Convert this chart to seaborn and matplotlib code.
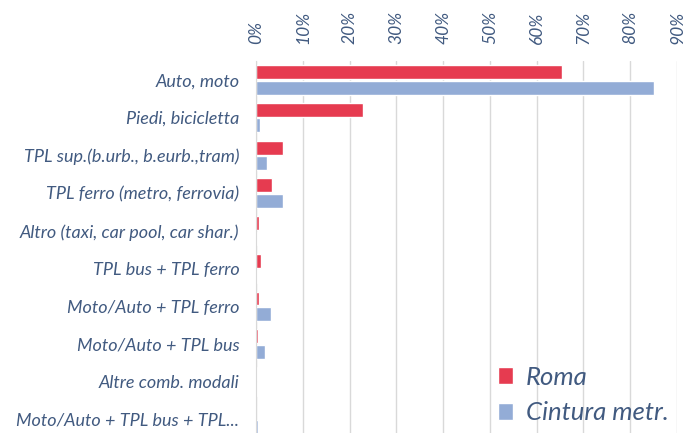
import pandas as pd
import matplotlib.pyplot as plt
import seaborn as sns
from matplotlib.ticker import PercentFormatter

# mode shares by category
categories = [
    "Auto, moto",
    "Piedi, bicicletta",
    "TPL sup.(b.urb., b.eurb.,tram)",
    "TPL ferro (metro, ferrovia)",
    "Altro (taxi, car pool, car shar.)",
    "TPL bus + TPL ferro",
    "Moto/Auto + TPL ferro",
    "Moto/Auto + TPL bus",
    "Altre comb. modali",
    "Moto/Auto + TPL bus + TPL...",
]
roma = [0.654, 0.228, 0.058, 0.034, 0.006, 0.010, 0.006, 0.005, 0.001, 0.0]
cintura = [0.851, 0.008, 0.024, 0.058, 0.001, 0.001, 0.031, 0.019, 0.001, 0.005]
series = ["Roma", "Cintura metr."]
ticks = [i / 10 for i in range(10)]

red = "#E63B50"
blue = "#93ACD6"
text_col = "#415A80"

df = pd.DataFrame({
    "cat": categories * 2,
    "val": roma + cintura,
    "serie": [series[0]] * len(categories) + [series[1]] * len(categories),
})

sns.set_style("white")
plt.rcParams["font.family"] = ["Lato", "DejaVu Sans"]

fig = plt.figure(figsize=(6.89, 4.33), dpi=100)
ax = fig.add_axes([0.3716, -0.012, 0.611, 0.871])

sns.barplot(data=df, y="cat", x="val", hue="serie", orient="h",
            palette=[red, blue], saturation=1, width=0.82, gap=0.1, ax=ax)

ax.set_xlim(0, 0.9)
ax.set_xticks(ticks)
ax.xaxis.set_major_formatter(PercentFormatter(1.0, decimals=0))
ax.xaxis.tick_top()
ax.grid(axis="x", color="#D9D9D9", linewidth=1)
ax.set_axisbelow(True)
for s in ["top", "right", "bottom"]:
    ax.spines[s].set_visible(False)
ax.spines["left"].set_color("#D9D9D9")
ax.tick_params(axis="x", length=0, pad=12, labelsize=12.5, labelcolor=text_col,
               labelrotation=90)
ax.tick_params(axis="y", length=0, pad=12, labelsize=13, labelcolor=text_col)
for t in ax.get_xticklabels() + ax.get_yticklabels():
    t.set_fontstyle("italic")
ax.set_xlabel("")
ax.set_ylabel("")

leg = ax.legend(loc="lower right", bbox_to_anchor=(1.035, -0.025), frameon=False,
                fontsize=18.5, handlelength=0.6, handleheight=0.6,
                handletextpad=0.5, labelspacing=0.5)
for t in leg.get_texts():
    t.set_color(text_col)
    t.set_fontstyle("italic")

fig.savefig("out.png", dpi=100)
